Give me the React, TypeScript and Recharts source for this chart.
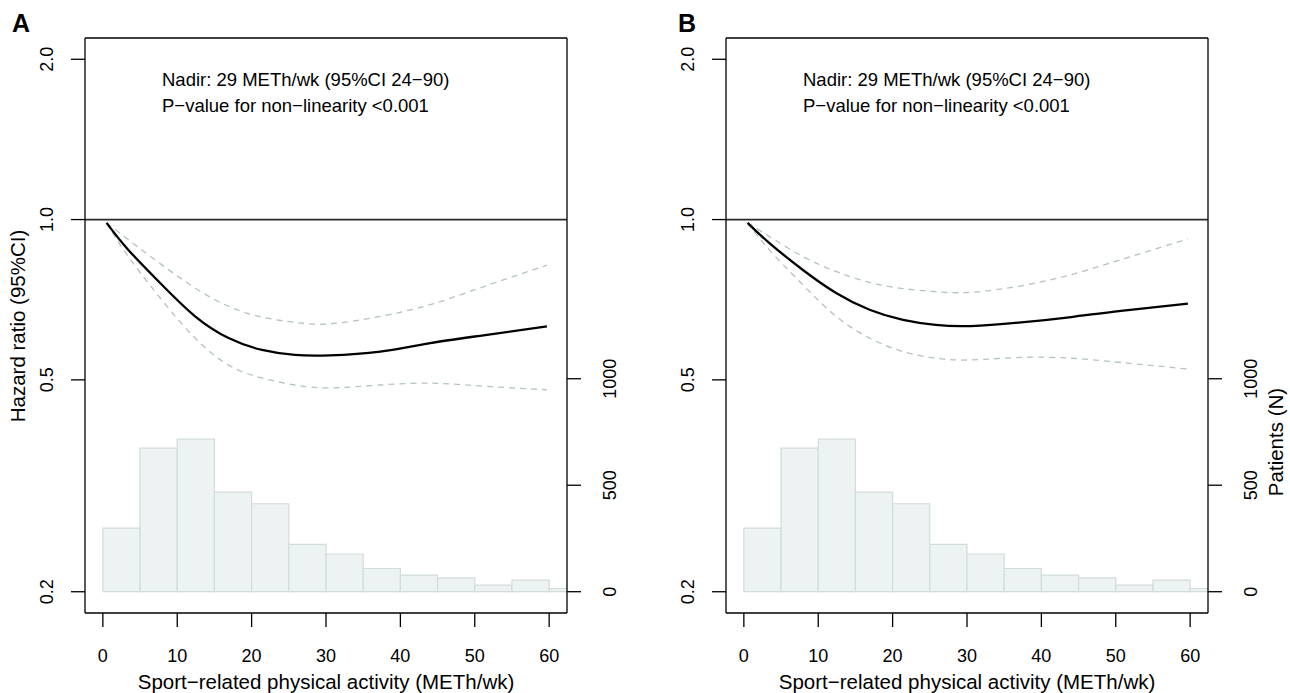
import { ComposedChart, Line, XAxis, YAxis, ReferenceLine, ReferenceArea } from 'recharts';

const font = '"Liberation Sans", Arial, Helvetica, sans-serif';

const activity = [0.5, 3.4, 7.9, 12.4, 16.9, 21.4, 25.8, 30.5, 37.3, 44, 50.7, 59.7];

// panel A
const hrA = [0.986, 0.878, 0.755, 0.658, 0.599, 0.569, 0.557, 0.556, 0.565, 0.586, 0.605, 0.63];
const upperA = [0.986, 0.917, 0.823, 0.744, 0.687, 0.656, 0.641, 0.637, 0.658, 0.692, 0.744, 0.821];
const lowerA = [0.986, 0.853, 0.707, 0.599, 0.533, 0.504, 0.489, 0.483, 0.489, 0.493, 0.487, 0.479];

// panel B
const hrB = [0.986, 0.904, 0.805, 0.728, 0.677, 0.648, 0.634, 0.631, 0.641, 0.656, 0.674, 0.695];
const upperB = [0.986, 0.93, 0.853, 0.799, 0.762, 0.742, 0.732, 0.73, 0.751, 0.788, 0.841, 0.92];
const lowerB = [0.986, 0.878, 0.755, 0.658, 0.599, 0.565, 0.549, 0.545, 0.551, 0.549, 0.539, 0.524];

// histogram (same in both panels)
const binEdges = [0, 5, 10, 15, 20, 25, 30, 35, 40, 45, 50, 55, 60, 65];
const patients = [299, 674, 716, 468, 413, 222, 177, 109, 78, 65, 31, 54, 15];

const xTicks = [0, 10, 20, 30, 40, 50, 60];
const hrTicks = [0.2, 0.5, 1, 2];
const nTicks = [0, 500, 1000];

const noteLines = ['Nadir: 29 METh/wk (95%CI 24\u221290)', 'P\u2212value for non\u2212linearity <0.001'];
const xTitle = 'Sport\u2212related physical activity (METh/wk)';

const hrDomain = [0.18243, 2.19285];
const ciColor = '#b3c4c0';
const axisStyle = { stroke: '#000', strokeWidth: 1.3 };

const XTick = (p: any) => (
  <text x={p.x} y={p.y} textAnchor="middle" fontSize={18} fontFamily={font} fill="#000">
    {p.payload.value}
  </text>
);

// R style: labels parallel to the axis
const SideTick = (fmt: (v: number) => string) => (p: any) => (
  <text x={p.x} y={p.y} transform={`rotate(-90, ${p.x}, ${p.y})`} textAnchor="middle"
    fontSize={18} fontFamily={font} fill="#000">
    {fmt(p.payload.value)}
  </text>
);

const vText = (x: number, y: number, s: string) => (
  <text x={x} y={y} transform={`rotate(-90, ${x}, ${y})`} textAnchor="middle" fontSize={20.5} fontFamily={font} fill="#000">
    {s}
  </text>
);

interface PanelProps {
  letter: string;
  letterX: number;
  width: number;
  hr: number[];
  upper: number[];
  lower: number[];
  leftTitle?: string;
  rightTitle?: string;
}

function Panel({ letter, letterX, width, hr, upper, lower, leftTitle, rightTitle }: PanelProps) {
  const rows = activity.map((x, i) => ({ x, hr: hr[i], upper: upper[i], lower: lower[i] }));

  return (
    <ComposedChart width={width} height={693} data={rows} margin={{ top: 38, right: 0, bottom: 0, left: 0 }}>
      <XAxis
        dataKey="x" type="number" domain={[-2.4, 62.4]} allowDataOverflow ticks={xTicks} interval={0}
        height={80} tickSize={14} tickMargin={35} tick={XTick} axisLine={axisStyle} tickLine={axisStyle}
        label={{
          content: (lp: any) => {
            const vb = lp.viewBox;
            return (
              <g>
                <text x={vb.x + vb.width / 2} y={689} textAnchor="middle" fontSize={20.5} fontFamily={font} fill="#000">
                  {xTitle}
                </text>
                <text x={letterX} y={31.5} fontSize={25} fontWeight="bold" fontFamily={font} fill="#000">{letter}</text>
                <text x={162} y={86} fontSize={18.5} fontFamily={font} fill="#000">{noteLines[0]}</text>
                <text x={162} y={111.7} fontSize={18.5} fontFamily={font} fill="#000">{noteLines[1]}</text>
              </g>
            );
          },
        }}
      />
      <YAxis
        yAxisId="hr" scale="log" type="number" domain={hrDomain} allowDataOverflow
        ticks={hrTicks} interval={0} width={85} tickSize={14} tickMargin={18}
        tick={SideTick((v) => v.toFixed(1))} axisLine={axisStyle} tickLine={axisStyle}
        label={leftTitle ? { content: () => vText(25, 326, leftTitle) } : undefined}
      />
      <YAxis
        yAxisId="n" orientation="right" type="number" domain={[-100, 2600]} allowDataOverflow
        ticks={nTicks} interval={0} width={width - 567} tickSize={14} tickMargin={35}
        tick={SideTick((v) => String(v))} axisLine={axisStyle} tickLine={axisStyle}
        label={rightTitle ? { content: () => vText(642, 442, rightTitle) } : undefined}
      />

      {patients.map((n, i) => (
        <ReferenceArea
          key={i} yAxisId="n" x1={binEdges[i]} x2={binEdges[i + 1]} y1={0} y2={n}
          ifOverflow="hidden" fill="#edf3f2" fillOpacity={1} stroke="#d3dcda" strokeWidth={1.2}
        />
      ))}

      {/* top edge of the box */}
      <ReferenceLine yAxisId="hr" y={hrDomain[1]} ifOverflow="visible" stroke="#000" strokeWidth={1.3} />
      <ReferenceLine yAxisId="hr" y={1} stroke="#2b2b2b" strokeWidth={1.8} />

      <Line yAxisId="hr" dataKey="upper" type="natural" stroke={ciColor} strokeWidth={1.3} strokeDasharray="6 5" dot={false} isAnimationActive={false} />
      <Line yAxisId="hr" dataKey="lower" type="natural" stroke={ciColor} strokeWidth={1.3} strokeDasharray="6 5" dot={false} isAnimationActive={false} />
      <Line yAxisId="hr" dataKey="hr" type="natural" stroke="#000" strokeWidth={2.3} dot={false} isAnimationActive={false} />
    </ComposedChart>
  );
}

export default function App() {
  return (
    <div style={{ position: 'absolute', left: 0, top: 0, width: 1290, height: 693, background: '#fff' }}>
      <div style={{ position: 'absolute', left: 0, top: 0 }}>
        <Panel letter="A" letterX={12} width={645} hr={hrA} upper={upperA} lower={lowerA} leftTitle="Hazard ratio (95%CI)" />
      </div>
      <div style={{ position: 'absolute', left: 641, top: 0 }}>
        <Panel letter="B" letterX={37} width={649} hr={hrB} upper={upperB} lower={lowerB} rightTitle="Patients (N)" />
      </div>
    </div>
  );
}
